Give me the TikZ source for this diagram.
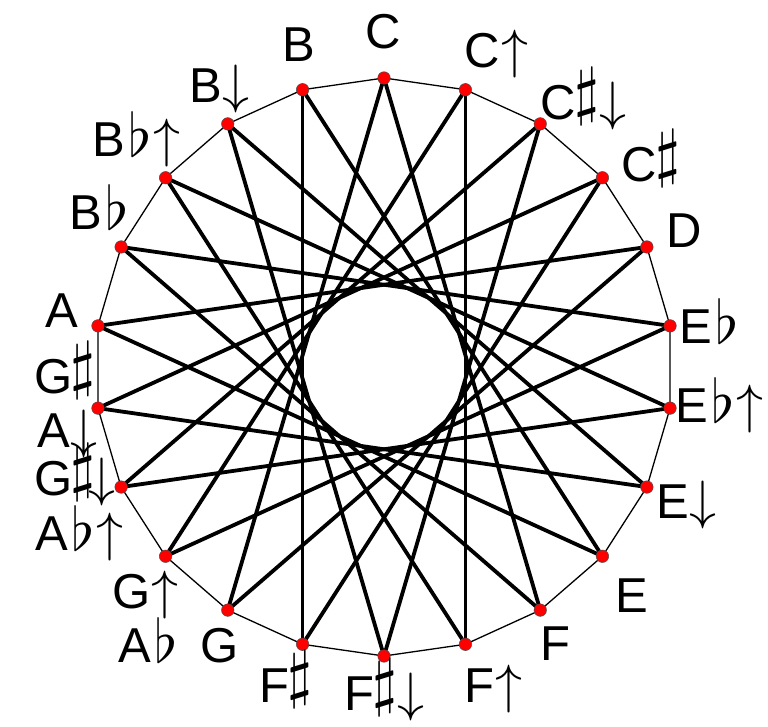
\documentclass[tikz,border=0pt]{standalone}
\usepackage{fontspec}
\setmainfont{Liberation Sans}
\newcommand{\tenpt}{\fontsize{10}{12}\selectfont}
\newcommand{\myflat}{\hspace{4pt}{\tenpt\scalebox{6}{$\flat$}}}
\newcommand{\mysharp}{\hspace{-2pt}\raisebox{7pt}{\tenpt\scalebox{6.4}{$\sharp$}}}
\newcommand{\myup}{\hspace{1pt}{\tenpt\scalebox{5.4}{$\uparrow$}}}
\newcommand{\mydown}{\hspace{1pt}{\tenpt\scalebox{5.4}{$\downarrow$}}}
\newcommand{\mysdown}[1][0.5pt]{\hspace{#1}{\tenpt\scalebox{5.4}{$\downarrow$}}}
\begin{document}
\begin{tikzpicture}[x=1pt,y=-1pt,
  chord/.style={line width=3.8pt,black},
  rim/.style={line width=1.3pt,black},
  vdot/.style={circle,fill=red,draw=black!70,line width=0.5pt,minimum size=12.5pt,inner sep=0pt},
  lab/.style={anchor=base west,inner sep=0pt,font=\fontsize{49}{49}\selectfont}]
\useasboundingbox (0,0) rectangle (768,727);
\fill[white] (0,0) rectangle (768,727);
\foreach \i in {0,...,21}
  \coordinate (p\i) at ({384+289*cos(90-\i*360/22)},{367-289*sin(90-\i*360/22)});
\foreach \i [evaluate=\i as \j using {int(mod(\i+1,22))}] in {0,...,21}
  \draw[rim] (p\i) -- (p\j);
\foreach \i [evaluate=\i as \j using {int(mod(\i+9,22))}] in {0,...,21}
  \draw[chord,line cap=round] (p\i) -- (p\j);
\foreach \i in {0,...,21}
  \node[vdot] (v\i) at (p\i) {};
% labels
\node[lab] (lC) at (365.6,49) {C};
\node[lab] (lB) at (282,62) {B};
\node[lab] (lCu) at (464.6,68) {C\myup};
\node[lab] (lBd) at (189,103) {B\mydown};
\node[lab] (lCsd) at (540.6,120) {C\mysharp\mysdown};
\node[lab] (lBbu) at (92,157) {B\myflat\myup};
\node[lab] (lCs) at (621.6,182) {C\mysharp};
\node[lab] (lBb) at (69,230) {B\myflat};
\node[lab] (lD) at (666,248) {D};
\node[lab] (lA) at (45,327) {A};
\node[lab] (lEb) at (679,343) {E\myflat};
\node[lab] (lGs) at (34.6,393) {G\mysharp};
\node[lab] (lEbu) at (675,422) {E\myflat\myup};
\node[lab] (lAd) at (37,447) {A\mydown};
\node[lab] (lGsd) at (34.6,495) {G\mysharp\mysdown[-7pt]};
\node[lab] (lEd) at (656,518) {E\mydown};
\node[lab] (lAbu) at (35,550) {A\myflat\myup};
\node[lab] (lGu) at (112.6,608) {G\myup};
\node[lab] (lE) at (615,612) {E};
\node[lab] (lAb) at (118,662) {A\myflat};
\node[lab] (lG) at (200.6,662) {G};
\node[lab] (lF) at (540,660) {F};
\node[lab] (lFs) at (259,702) {F\mysharp};
\node[lab] (lFsd) at (344,710) {F\mysharp\mysdown};
\node[lab] (lFu) at (464,702) {F\myup};
\end{tikzpicture}
\end{document}
